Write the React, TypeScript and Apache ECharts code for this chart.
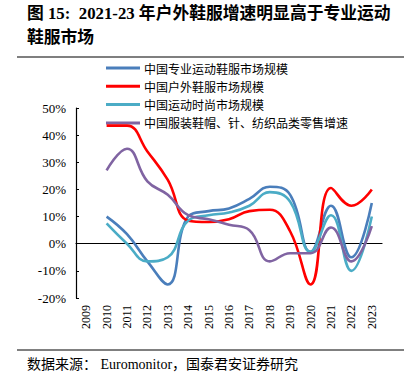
import React, { useEffect, useRef } from "react";
import * as echarts from "echarts";

const years = ["2009","2010","2011","2012","2013","2014","2015","2016","2017","2018","2019","2020","2021","2022","2023"];
const seriesNames = ["中国专业运动鞋服市场规模","中国户外鞋服市场规模","中国运动时尚市场规模","中国服装鞋帽、针、纺织品类零售增速"];
const proSport = [null, 10, 3.5, -6.5, -15, 10, 12, 13, 16.5, 21, 18, -3, 14, -5, 15];
const outdoor = [null, 43.5, 43.5, 34, 23.5, 8.5, 8, 9, 12, 12.5, 4.5, -15, 20.5, 14, 20];
const fashion = [null, 7.5, 0, -6.5, -5, 8.5, 10.5, 11.5, 14, 19, 15.5, -3, 10.5, -10, 10];
const apparel = [null, 27, 35, 23, 18, 10.5, 9, 7, 5, -6.5, -3.5, -3.5, 6, -6.5, 6.5];
const colors = ["#4A7EBB", "#FF0000", "#4BACC6", "#8064A2"];
const yTicks = { min: -20, max: 50, interval: 10 };

const serif = "'Liberation Serif', 'Noto Sans CJK SC', serif";

export default function App() {
  const ref = useRef<HTMLDivElement>(null);
  useEffect(() => {
    const chart = echarts.init(ref.current!, undefined, { renderer: "svg" });
    const data = [proSport, outdoor, fashion, apparel];
    chart.setOption({
      animation: false,
      backgroundColor: "#fff",
      color: colors,
      grid: { left: 76, right: 28, top: 108, bottom: 89, containLabel: false },
      legend: {
        orient: "vertical",
        left: 101,
        top: 57,
        itemWidth: 34,
        itemHeight: 12,
        itemGap: 6.3,
        textStyle: { fontFamily: "'Noto Sans CJK SC', sans-serif", fontSize: 12, color: "#000", padding: [0, 0, 0, -1] },
        data: seriesNames.map((n) => ({ name: n, icon: "path://M0,0 L34,0 L34,3 L0,3 Z" })),
      },
      xAxis: {
        type: "category",
        data: years,
        boundaryGap: true,
        axisLine: { onZero: true, lineStyle: { color: "#000", width: 1.2 } },
        axisTick: { show: false },
        axisLabel: { rotate: 90, fontFamily: serif, fontSize: 12, color: "#000", margin: 7, interval: 0 },
      },
      yAxis: {
        type: "value",
        min: yTicks.min,
        max: yTicks.max,
        interval: yTicks.interval,
        splitLine: { show: false },
        axisLine: { show: true, lineStyle: { color: "#000", width: 1.2 } },
        axisTick: { show: true, inside: true, length: 3, lineStyle: { color: "#000" } },
        axisLabel: { formatter: "{value}%", fontFamily: serif, fontSize: 13, color: "#000", margin: 10 },
      },
      series: seriesNames.map((n, i) => ({
        name: n,
        type: "line",
        data: data[i],
        smooth: 0.45,
        symbol: "none",
        lineStyle: { width: 2.6, color: colors[i] },
        z: i === 1 ? 5 : 3 + i,
      })),
      graphic: [
        { type: "text", left: 27, top: 5, style: { text: "图 15:  2021-23 年户外鞋服增速明显高于专业运动", font: "bold 16.8px " + serif, fill: "#000" } },
        { type: "text", left: 27, top: 29, style: { text: "鞋服市场", font: "bold 16.8px " + serif, fill: "#000" } },
        { type: "line", shape: { x1: 17, y1: 57, x2: 404, y2: 57 }, style: { stroke: "#000", lineWidth: 1.2 } },
        { type: "line", shape: { x1: 17, y1: 350, x2: 404, y2: 350 }, style: { stroke: "#000", lineWidth: 1 } },
        { type: "text", left: 27, top: 357, style: { text: "数据来源： Euromonitor，国泰君安证券研究", font: "14px " + serif, fill: "#000" } },
      ],
    });
    return () => chart.dispose();
  }, []);
  return <div ref={ref} style={{ width: 410, height: 387, position: "absolute", left: 0, top: 0 }} />;
}
